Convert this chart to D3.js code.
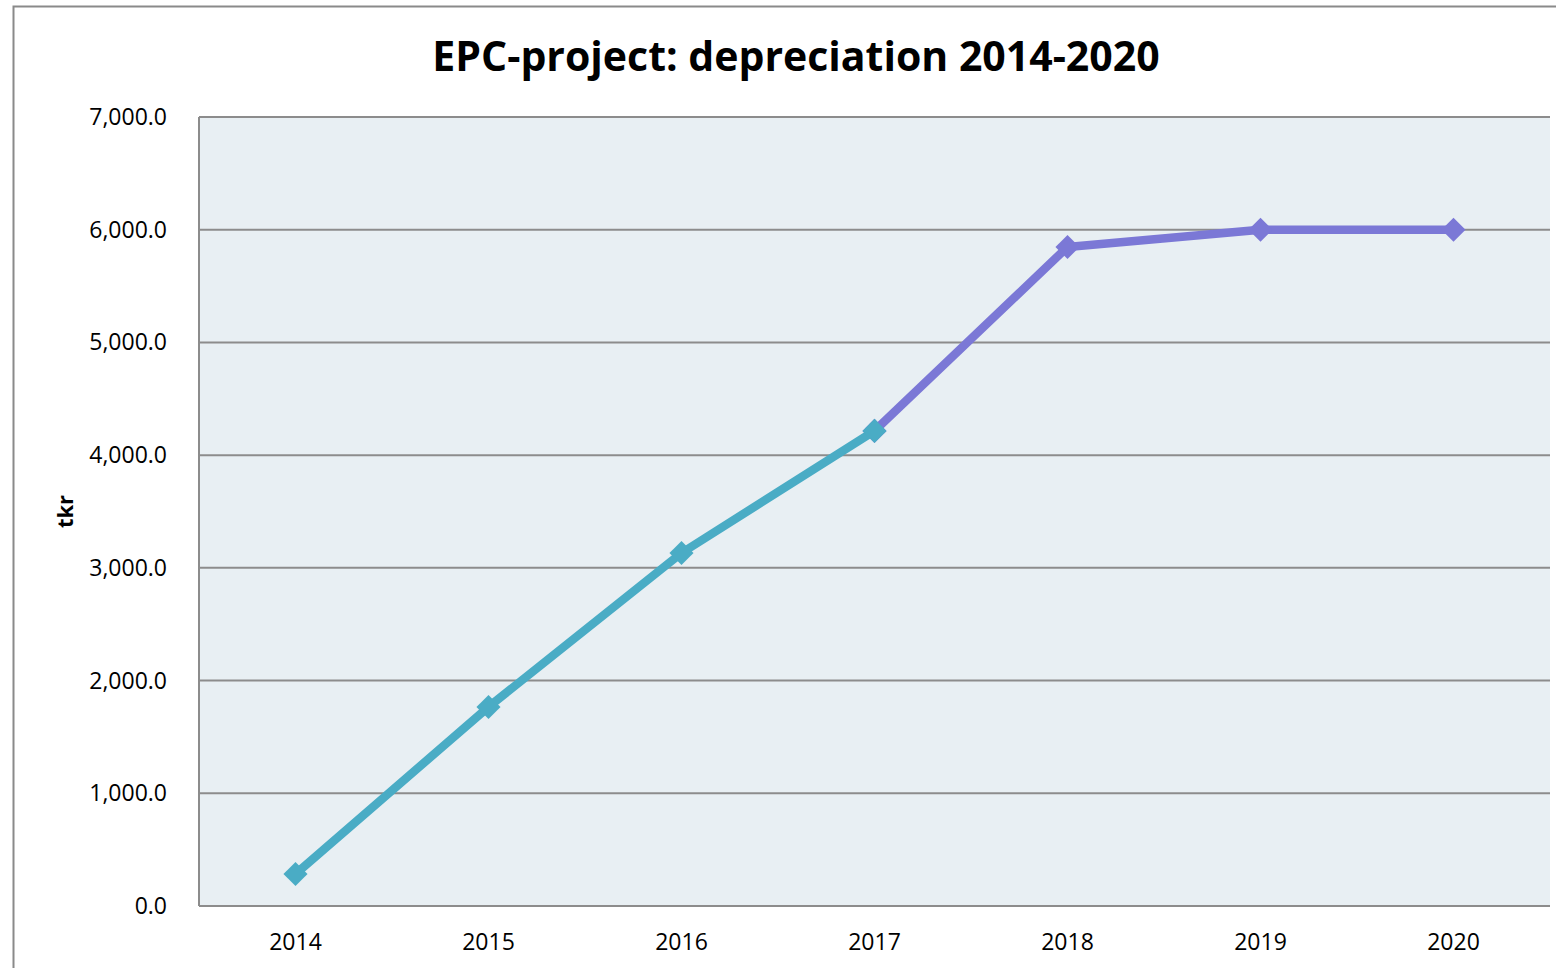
<!DOCTYPE html>
<html>
<head>
<meta charset="utf-8">
<script src="https://cdn.jsdelivr.net/npm/d3@7"></script>
<style>
  body { margin: 0; background: #fff; }
  svg { display: block; font-family: "Open Sans", "Liberation Sans", sans-serif; }
</style>
</head>
<body>
<div id="chart"></div>
<script>
// chart data
const years = ["2014", "2015", "2016", "2017", "2018", "2019", "2020"];
const actualValues = [284, 1766, 3132, 4215, null, null, null];
const forecastValues = [null, null, null, 4215, 5847, 6000, 6000];
const yTicks = [0, 1000, 2000, 3000, 4000, 5000, 6000, 7000];

const width = 1556, height = 968;
const margin = { top: 117, right: 6, bottom: 62, left: 199 };

const svg = d3.select("#chart").append("svg")
    .attr("width", width)
    .attr("height", height);

// outer chart border
svg.append("rect")
    .attr("x", 13.5).attr("y", 6.5)
    .attr("width", 1560).attr("height", 980)
    .attr("fill", "#fff")
    .attr("stroke", "#8a8a8a")
    .attr("stroke-width", 2);

const x = d3.scaleBand()
    .domain(years)
    .range([margin.left, width - margin.right]);

const y = d3.scaleLinear()
    .domain([0, 7000])
    .range([height - margin.bottom, margin.top]);

// plot area
svg.append("rect")
    .attr("x", margin.left).attr("y", margin.top)
    .attr("width", width - margin.right - margin.left)
    .attr("height", y(0) - margin.top)
    .attr("fill", "#e8eff3");

// gridlines
svg.append("g")
    .selectAll("line")
    .data(yTicks)
    .join("line")
    .attr("x1", margin.left).attr("x2", width - margin.right)
    .attr("y1", d => y(d)).attr("y2", d => y(d))
    .attr("stroke", "#8c8c8c")
    .attr("stroke-width", 2);

// left axis line
svg.append("line")
    .attr("x1", margin.left).attr("x2", margin.left)
    .attr("y1", margin.top).attr("y2", y(0))
    .attr("stroke", "#8c8c8c")
    .attr("stroke-width", 2);

// y tick labels
svg.append("g")
    .selectAll("text")
    .data(yTicks)
    .join("text")
    .attr("x", 167)
    .attr("y", d => y(d))
    .attr("dy", "0.35em")
    .attr("text-anchor", "end")
    .attr("font-size", 23)
    .attr("fill", "#000")
    .text(d => d3.format(",.1f")(d));

// x tick labels
svg.append("g")
    .selectAll("text")
    .data(years)
    .join("text")
    .attr("x", d => x(d) + x.bandwidth() / 2)
    .attr("y", y(0) + 36)
    .attr("dy", "0.35em")
    .attr("text-anchor", "middle")
    .attr("font-size", 23)
    .attr("fill", "#000")
    .text(d => d);

// y axis title
svg.append("text")
    .attr("transform", `translate(65, ${(margin.top + y(0)) / 2}) rotate(-90)`)
    .attr("text-anchor", "middle")
    .attr("dy", "0.35em")
    .attr("font-size", 22)
    .attr("font-weight", "bold")
    .text("tkr");

// title
svg.append("text")
    .attr("x", 796)
    .attr("y", 57)
    .attr("dy", "0.35em")
    .attr("text-anchor", "middle")
    .attr("font-size", 41)
    .attr("font-weight", "bold")
    .text("EPC-project: depreciation 2014-2020");

const line = d3.line()
    .defined(d => d != null)
    .x((d, i) => x(years[i]) + x.bandwidth() / 2)
    .y(d => y(d));

function drawSeries(values, colour) {
    svg.append("path")
        .datum(values)
        .attr("fill", "none")
        .attr("stroke", colour)
        .attr("stroke-width", 8.5)
        .attr("stroke-linejoin", "round")
        .attr("d", line);

    // diamond markers (rotated squares)
    svg.append("g")
        .selectAll("path")
        .data(values.map((v, i) => ({ v, year: years[i] })).filter(d => d.v != null))
        .join("path")
        .attr("d", d3.symbol().type(d3.symbolSquare).size(290))
        .attr("transform", d => `translate(${x(d.year) + x.bandwidth() / 2}, ${y(d.v)}) rotate(45)`)
        .attr("fill", colour);
}

drawSeries(forecastValues, "#7b78d6");
drawSeries(actualValues, "#4aacc5");
</script>
</body>
</html>
